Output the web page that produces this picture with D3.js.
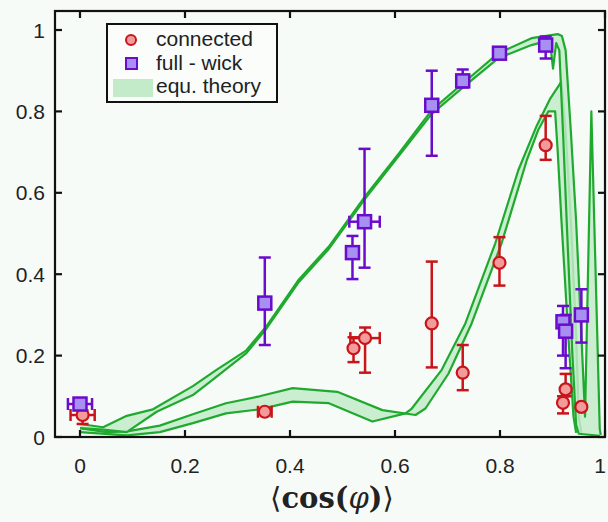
<!DOCTYPE html>
<html><head><meta charset="utf-8">
<script src="https://cdn.jsdelivr.net/npm/d3@7"></script>
<style>
html,body{margin:0;padding:0;background:#f7fbf7;}
svg{display:block;font-family:"Liberation Sans",Arial,sans-serif;}
</style></head>
<body><svg id="chart" width="608" height="522"></svg>
<script>
// ---------- data ----------
const xTicks = [0, 0.2, 0.4, 0.6, 0.8, 1];
const yTicks = [0, 0.2, 0.4, 0.6, 0.8, 1];
const xTickLabels = ["0", "0.2", "0.4", "0.6", "0.8", "1"];
const yTickLabels = ["0", "0.2", "0.4", "0.6", "0.8", "1"];
const legendLabels = ["connected", "full - wick", "equ. theory"];

// full - wick (purple squares)
const wickX    = [0.000, 0.352, 0.519, 0.542, 0.670, 0.729, 0.799, 0.887, 0.920, 0.925, 0.955];
const wickY    = [0.081, 0.329, 0.453, 0.529, 0.815, 0.875, 0.943, 0.963, 0.283, 0.260, 0.300];
const wickYLo  = [0.070, 0.226, 0.388, 0.416, 0.691, 0.859, null,  0.930, 0.200, 0.169, 0.232];
const wickYHi  = [0.095, 0.441, 0.494, 0.708, 0.900, 0.903, null,  0.984, 0.322, 0.300, 0.363];
const wickXErr = [0.023, 0.010, null,  0.029, null,  null,  null,  null,  null,  null,  null];

// connected (red circles)
const connX    = [0.005, 0.352, 0.521, 0.543, 0.670, 0.729, 0.799, 0.887, 0.925, 0.920, 0.955];
const connY    = [0.054, 0.062, 0.218, 0.243, 0.279, 0.158, 0.428, 0.717, 0.117, 0.084, 0.074];
const connYLo  = [0.032, null,  0.184, 0.158, 0.171, 0.115, 0.372, 0.681, 0.100, 0.058, null];
const connYHi  = [0.065, null,  0.245, 0.269, 0.431, 0.226, 0.491, 0.789, 0.155, 0.100, null];
const connXErr = [0.023, 0.013, null,  0.028, null,  null,  null,  null,  null,  null,  null];

// equ. theory bands: [x, y] edges
const wickTheoryUpper = [[0,.032],[.044,.024],[.089,.052],[.139,.068],[.215,.125],[.26,.165],[.317,.213],[.355,.272],[.417,.387],[.474,.468],[.544,.593],[.607,.696],[.67,.803],[.734,.874],[.797,.943],[.86,.98],[.91,.99],[.918,.985],[.925,.95],[.935,.75],[.945,.53],[.955,.25],[.962,.05],[.974,.80],[.99,.02],[.992,.005]];
const wickTheoryLower = [[0,.022],[.044,.018],[.089,.012],[.146,.062],[.215,.103],[.247,.135],[.317,.206],[.355,.266],[.417,.381],[.474,.462],[.544,.587],[.607,.69],[.67,.794],[.734,.864],[.797,.931],[.86,.963],[.895,.975],[.901,.905],[.907,.968],[.913,.95],[.92,.75],[.928,.5],[.938,.2],[.945,.03],[.95,.008],[.99,.003]];
const connTheoryEdge1 = [[0,.022],[.05,.012],[.09,.014],[.152,.028],[.215,.056],[.278,.083],[.342,.1],[.405,.12],[.49,.111],[.576,.066],[.639,.054],[.658,.07],[.702,.156],[.746,.279],[.803,.476],[.851,.68],[.873,.755],[.892,.80],[.905,.80],[.91,.7],[.917,.533],[.93,.25],[.94,.05],[.945,.01]];
const connTheoryEdge2 = [[0,.012],[.089,.004],[.152,.012],[.215,.034],[.278,.058],[.342,.068],[.405,.087],[.474,.083],[.557,.038],[.62,.058],[.632,.07],[.689,.165],[.734,.279],[.791,.476],[.835,.656],[.87,.765],[.895,.83],[.917,.873],[.925,.75],[.935,.533],[.945,.25],[.95,.05],[.955,.01]];

// ---------- layout ----------
const L = 55, R = 605, T = 11, B = 437;
const x = d3.scaleLinear().domain([-0.0476, 1]).range([L, R]);
const y = d3.scaleLinear().domain([0, 1.0467]).range([B, T]);

const svg = d3.select("#chart");
svg.append("rect").attr("width", 608).attr("height", 522).attr("fill", "#f7fbf7");

const defs = svg.append("defs");
defs.append("clipPath").attr("id", "clip").append("rect")
  .attr("x", L).attr("y", T).attr("width", R - L).attr("height", B - T);

const green = "#1faa2f", greenFill = "#c3ebc9";
const purple = "#6a0ccc", purpleFill = "#a88ff2";
const red = "#c8141a", redFill = "#f39a9a";

const plot = svg.append("g").attr("clip-path", "url(#clip)");
const line = d3.line().x(d => x(d[0])).y(d => y(d[1]));

function band(edgeA, edgeB) {
  const poly = edgeA.concat(edgeB.slice().reverse());
  plot.append("path").attr("d", line(poly) + "Z")
    .attr("fill", greenFill).attr("fill-opacity", 0.85).attr("stroke", "none");
  [edgeA, edgeB].forEach(e => plot.append("path").attr("d", line(e))
    .attr("fill", "none").attr("stroke", green).attr("stroke-width", 2.2)
    .attr("stroke-linejoin", "round"));
}
band(connTheoryEdge1, connTheoryEdge2);
band(wickTheoryUpper, wickTheoryLower);

// ---------- error bars + markers ----------
function errors(X, Y, lo, hi, xe, color) {
  const g = svg.append("g").attr("stroke", color).attr("stroke-width", 2.5).attr("fill", "none");
  const cap = 6;
  X.forEach((xv, i) => {
    if (lo[i] != null) {
      const px = x(xv);
      g.append("line").attr("x1", px).attr("x2", px).attr("y1", y(lo[i])).attr("y2", y(hi[i]));
      g.append("line").attr("x1", px - cap).attr("x2", px + cap).attr("y1", y(lo[i])).attr("y2", y(lo[i]));
      g.append("line").attr("x1", px - cap).attr("x2", px + cap).attr("y1", y(hi[i])).attr("y2", y(hi[i]));
    }
    if (xe[i] != null) {
      const py = y(Y[i]);
      g.append("line").attr("x1", x(xv - xe[i])).attr("x2", x(xv + xe[i])).attr("y1", py).attr("y2", py);
      g.append("line").attr("x1", x(xv - xe[i])).attr("x2", x(xv - xe[i])).attr("y1", py - cap).attr("y2", py + cap);
      g.append("line").attr("x1", x(xv + xe[i])).attr("x2", x(xv + xe[i])).attr("y1", py - cap).attr("y2", py + cap);
    }
  });
}
errors(connX, connY, connYLo, connYHi, connXErr, red);
errors(wickX, wickY, wickYLo, wickYHi, wickXErr, purple);

svg.append("g").selectAll("circle").data(connX).join("circle")
  .attr("cx", (d) => x(d)).attr("cy", (d, i) => y(connY[i])).attr("r", 6)
  .attr("fill", redFill).attr("stroke", red).attr("stroke-width", 2.2);

const sq = 13;
svg.append("g").selectAll("rect").data(wickX).join("rect")
  .attr("x", d => x(d) - sq / 2).attr("y", (d, i) => y(wickY[i]) - sq / 2)
  .attr("width", sq).attr("height", sq)
  .attr("fill", purpleFill).attr("stroke", purple).attr("stroke-width", 2.5);

// ---------- frame & ticks ----------
const ax = svg.append("g").attr("stroke", "#111").attr("stroke-width", 2.2);
ax.append("rect").attr("x", L).attr("y", T).attr("width", R - L).attr("height", B - T).attr("fill", "none");
const tl = 7;
xTicks.forEach(t => {
  ax.append("line").attr("x1", x(t)).attr("x2", x(t)).attr("y1", B).attr("y2", B - tl);
  ax.append("line").attr("x1", x(t)).attr("x2", x(t)).attr("y1", T).attr("y2", T + tl);
});
yTicks.forEach(t => {
  ax.append("line").attr("x1", L).attr("x2", L + tl).attr("y1", y(t)).attr("y2", y(t));
  ax.append("line").attr("x1", R).attr("x2", R - tl).attr("y1", y(t)).attr("y2", y(t));
});

svg.append("g").selectAll("text").data(xTicks).join("text")
  .attr("x", d => Math.min(x(d), 600)).attr("y", 473).attr("text-anchor", "middle")
  .attr("font-size", 21).attr("fill", "#222").text((d, i) => xTickLabels[i]);
svg.append("g").selectAll("text").data(yTicks).join("text")
  .attr("x", 45).attr("y", d => y(d) + 7.5).attr("text-anchor", "end")
  .attr("font-size", 21).attr("fill", "#222").text((d, i) => yTickLabels[i]);

// x-axis title ⟨cos(φ)⟩
const title = svg.append("text").attr("x", 332).attr("y", 508).attr("text-anchor", "middle")
  .attr("font-family", "'DejaVu Serif','Liberation Serif',serif").attr("font-size", 29).attr("fill", "#222");
title.append("tspan").attr("font-weight", "normal").text("⟨");
title.append("tspan").attr("font-weight", "bold").text("cos(");
title.append("tspan").attr("font-style", "italic").attr("font-weight", "normal").text("φ");
title.append("tspan").attr("font-weight", "bold").text(")");
title.append("tspan").attr("font-weight", "normal").text("⟩");

// ---------- legend ----------
const lg = svg.append("g");
lg.append("rect").attr("x", 107).attr("y", 24).attr("width", 170).attr("height", 78)
  .attr("fill", "#fafdfa").attr("stroke", "#111").attr("stroke-width", 2);
lg.append("circle").attr("cx", 131).attr("cy", 40).attr("r", 5)
  .attr("fill", redFill).attr("stroke", red).attr("stroke-width", 2);
lg.append("rect").attr("x", 126).attr("y", 58).attr("width", 11).attr("height", 11)
  .attr("fill", purpleFill).attr("stroke", purple).attr("stroke-width", 2);
lg.append("rect").attr("x", 113).attr("y", 79).attr("width", 40).attr("height", 18)
  .attr("fill", greenFill);
[46, 70, 93].forEach((by, i) => lg.append("text").attr("x", 156).attr("y", by)
  .attr("font-size", 21).attr("fill", "#222").text(legendLabels[i]));
</script></body></html>
